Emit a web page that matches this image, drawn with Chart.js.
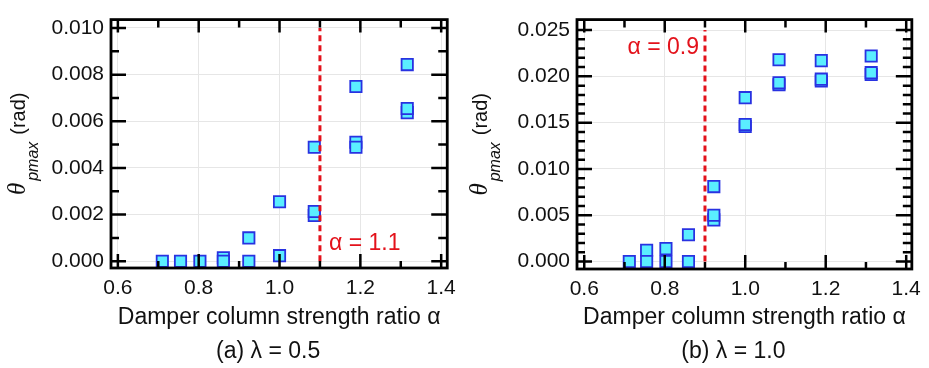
<!DOCTYPE html>
<html><head><meta charset="utf-8">
<script src="https://cdn.jsdelivr.net/npm/chart.js@4/dist/chart.umd.min.js"></script>
<style>
html,body{margin:0;padding:0;background:#fff;}
#wrap{position:relative;width:929px;height:368px;overflow:hidden;}
canvas{position:absolute;top:0;}
#ca{left:0;}
#cb{left:464px;}
</style></head><body>
<div id="wrap"><canvas id="ca" width="464" height="368"></canvas><canvas id="cb" width="465" height="368"></canvas></div>
<script>
// ---- data ----
const alphaA = [0.71, 0.755, 0.803, 0.861, 0.861, 0.924, 0.924, 1.0, 1.0, 1.086, 1.086, 1.086, 1.189, 1.189, 1.189, 1.316, 1.316, 1.316];
const thetaA = [0.0, 0.0, 0.0, 0.00015, 0.0, 0.0010, 0.0, 0.00255, 0.00024, 0.00489, 0.00196, 0.00213, 0.00749, 0.0051, 0.00489, 0.00843, 0.00637, 0.00655];
const alphaB = [0.712, 0.755, 0.755, 0.803, 0.803, 0.859, 0.859, 0.922, 0.922, 0.922, 1.0, 1.0, 1.0, 1.084, 1.084, 1.084, 1.189, 1.189, 1.189, 1.313, 1.313, 1.313];
const thetaB = [0.0, 0.00122, 0.0, 0.0014, 0.0, 0.0029, 0.0, 0.0081, 0.0045, 0.0050, 0.0177, 0.01458, 0.0148, 0.0218, 0.0191, 0.0193, 0.0217, 0.0195, 0.0197, 0.0222, 0.0202, 0.0204];
const xTicks = [0.6, 0.8, 1.0, 1.2, 1.4];
const yTicksA = [0.000, 0.002, 0.004, 0.006, 0.008, 0.010];
const yTicksB = [0.000, 0.005, 0.010, 0.015, 0.020, 0.025];
const criticalA = 1.1;
const criticalB = 0.9;
const critLabelA = 'α = 1.1';
const critLabelB = 'α = 0.9';
const captionA = '(a) λ = 0.5';
const captionB = '(b) λ = 1.0';
const xTitle = 'Damper column strength ratio α';

const F = '"Liberation Sans", Arial, sans-serif';
const INK = '#111';

function subdivide(major, n) {
  const out = [];
  for (let i = 0; i < major.length - 1; i++) {
    for (let k = 1; k < n; k++) out.push(major[i] + (major[i + 1] - major[i]) * k / n);
  }
  return out;
}

function framePlugin(cfg) {
  return {
    id: 'frame' + cfg.id,
    afterDraw(chart) {
      const ctx = chart.ctx, ca = chart.chartArea;
      const xs = chart.scales.x, ys = chart.scales.y;
      ctx.save();
      ctx.strokeStyle = '#000';
      ctx.lineWidth = 2.5;
      ctx.lineCap = 'butt';
      // ticks (inward)
      ctx.beginPath();
      const xMinor = subdivide(cfg.xTicks, 2);
      const yMinor = subdivide(cfg.yTicks, cfg.yMinorN);
      cfg.xTicks.forEach(v => { const p = xs.getPixelForValue(v);
        ctx.moveTo(p, ca.bottom); ctx.lineTo(p, ca.bottom - 14);
        ctx.moveTo(p, ca.top); ctx.lineTo(p, ca.top + 13); });
      xMinor.forEach(v => { const p = xs.getPixelForValue(v);
        ctx.moveTo(p, ca.bottom); ctx.lineTo(p, ca.bottom - 7);
        ctx.moveTo(p, ca.top); ctx.lineTo(p, ca.top + 8); });
      cfg.yTicks.forEach(v => { const p = ys.getPixelForValue(v);
        ctx.moveTo(ca.left, p); ctx.lineTo(ca.left + 15, p);
        ctx.moveTo(ca.right, p); ctx.lineTo(ca.right - 16, p); });
      yMinor.forEach(v => { const p = ys.getPixelForValue(v);
        ctx.moveTo(ca.left, p); ctx.lineTo(ca.left + 8, p);
        ctx.moveTo(ca.right, p); ctx.lineTo(ca.right - 9, p); });
      ctx.stroke();
      // frame
      ctx.lineWidth = 2.8;
      ctx.strokeRect(ca.left, ca.top, ca.right - ca.left, ca.bottom - ca.top);

      // critical label
      ctx.fillStyle = '#e3121b';
      ctx.font = '23px ' + F;
      ctx.textBaseline = 'middle';
      const cx = xs.getPixelForValue(cfg.crit);
      if (cfg.labelSide === 'right') {
        ctx.textAlign = 'left';
        ctx.fillText(cfg.critLabel, cx + 9, ys.getPixelForValue(cfg.yTicks[0]) - 18);
      } else {
        ctx.textAlign = 'right';
        ctx.fillText(cfg.critLabel, cx - 6, ys.getPixelForValue(cfg.yTicks[cfg.yTicks.length - 1]) + 18);
      }

      // caption
      ctx.fillStyle = INK;
      ctx.textAlign = 'center';
      ctx.font = '23px ' + F;
      ctx.fillText(cfg.caption, (ca.left + ca.right) / 2 - 11, 352);

      // y axis title: theta_pmax (rad), rotated
      const parts = [
        {t: 'θ', font: 'italic 25px "Liberation Serif", serif', base: 25, after: 2},
        {t: 'pmax', font: 'italic 16px ' + F, base: 38, after: 7},
        {t: '(rad)', font: '20px ' + F, base: 25, after: 0}
      ];
      let total = 0;
      parts.forEach(p => { ctx.font = p.font; p.w = ctx.measureText(p.t).width; total += p.w + p.after; });
      const start = (ca.top + ca.bottom) / 2 + total / 2;
      ctx.translate(cfg.titleDx, start);
      ctx.rotate(-Math.PI / 2);
      ctx.textAlign = 'left';
      ctx.textBaseline = 'alphabetic';
      let lx = 0;
      parts.forEach(p => { ctx.font = p.font; ctx.fillText(p.t, lx, p.base); lx += p.w + p.after; });
      ctx.restore();
    }
  };
}

function makeChart(el, cfg) {
  const pts = cfg.alpha.map((a, i) => ({x: a, y: cfg.theta[i]}));
  const top = cfg.yTicks[cfg.yTicks.length - 1];
  return new Chart(el, {
    type: 'scatter',
    data: {datasets: [
      {type: 'line', data: [{x: cfg.crit, y: 0}, {x: cfg.crit, y: top}], borderColor: '#e3121b',
       borderWidth: 3, borderDash: [6, 4], pointRadius: 0, showLine: true, fill: false, order: 0},
      {data: pts, pointStyle: 'rect', pointRadius: 8, pointHoverRadius: 8,
       backgroundColor: 'rgb(90,238,255)', borderColor: 'rgb(40,50,225)', pointBorderWidth: 1.8,
       showLine: false, order: 1}
    ]},
    options: {
      responsive: false, animation: false, devicePixelRatio: 1,
      layout: {padding: {left: 0, top: cfg.top, right: cfg.right, bottom: 0}},
      plugins: {legend: {display: false}, tooltip: {enabled: false}, title: {display: false}},
      scales: {
        x: {type: 'linear', min: cfg.xmin, max: cfg.xmax,
            afterBuildTicks: s => { s.ticks = cfg.xTicks.map(v => ({value: v})); },
            afterFit: s => { s.height = cfg.xh; },
            ticks: {font: {family: F, size: 21}, color: INK, padding: 8, maxRotation: 0, autoSkip: false,
                    callback: v => Number(v).toFixed(1)},
            grid: {color: '#e6e6e6', lineWidth: 1, drawTicks: false},
            border: {display: false},
            title: {display: true, text: xTitle, font: {family: F, size: 23}, color: INK,
                    padding: {top: 0, bottom: 37}}},
        y: {type: 'linear', min: cfg.ymin, max: cfg.ymax,
            afterBuildTicks: s => { s.ticks = cfg.yTicks.map(v => ({value: v})); },
            afterFit: s => { s.width = cfg.yw; },
            ticks: {font: {family: F, size: 21}, color: INK, padding: 7,
                    callback: v => Number(v).toFixed(3)},
            grid: {color: '#e6e6e6', lineWidth: 1, drawTicks: false},
            border: {display: false}}
      }
    },
    plugins: [framePlugin(cfg)]
  });
}

makeChart(document.getElementById('ca'), {
  id: 'A', alpha: alphaA, theta: thetaA, xTicks: xTicks, yTicks: yTicksA, yMinorN: 2,
  crit: criticalA, critLabel: critLabelA, labelSide: 'right', caption: captionA,
  xmin: 0.583, xmax: 1.415, ymin: -0.00029, ymax: 0.01036,
  top: 13, right: 12, xh: 100, yw: 111, titleDx: 0
});
makeChart(document.getElementById('cb'), {
  id: 'B', alpha: alphaB, theta: thetaB, xTicks: xTicks, yTicks: yTicksB, yMinorN: 5,
  crit: criticalB, critLabel: critLabelB, labelSide: 'left', caption: captionB,
  xmin: 0.582, xmax: 1.414, ymin: -0.0008, ymax: 0.02613,
  top: 11, right: 12, xh: 99, yw: 113, titleDx: -2
});
</script>
</body></html>
